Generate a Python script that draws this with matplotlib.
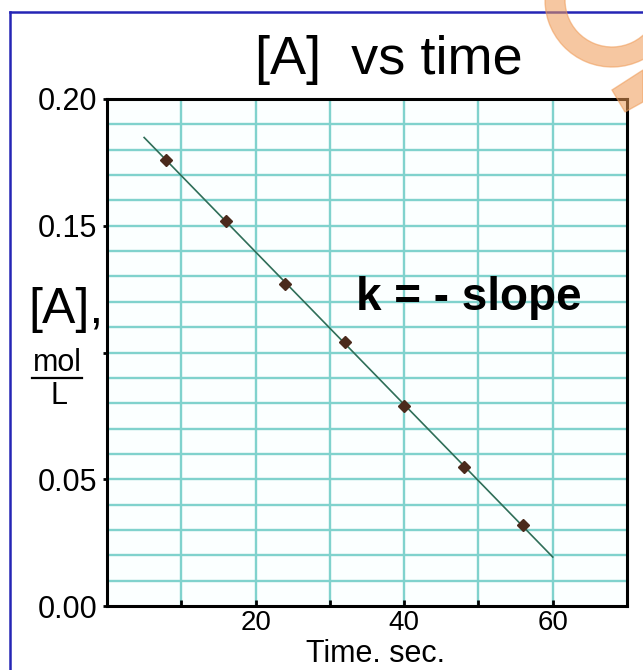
import numpy as np
import matplotlib
matplotlib.use("Agg")
import matplotlib.pyplot as plt
from matplotlib.patches import Wedge, Polygon
from matplotlib.lines import Line2D
from matplotlib.transforms import IdentityTransform

# ---- data ----
time_s = [8, 16, 24, 32, 40, 48, 56]
conc_A = [0.176, 0.152, 0.127, 0.104, 0.079, 0.055, 0.032]
fit_range = [5, 60]
x_ticks = [10, 20, 30, 40, 50, 60]
x_tick_labels = ["", "20", "", "40", "", "60"]
y_ticks = [0.00, 0.05, 0.10, 0.15, 0.20]
y_tick_labels = ["0.00", "0.05", "", "0.15", "0.20"]
title = "[A]  vs time"
annotation = "k = - slope"
x_label = "Time. sec."

W, H = 643, 670
plt.rcParams['font.family'] = ['Liberation Sans', 'DejaVu Sans']
fig = plt.figure(figsize=(W / 100, H / 100), dpi=100)
fig.patch.set_facecolor('white')

def fx(px):
    return px / W

def fy(py):
    return 1 - py / H

ax = fig.add_axes([fx(107), fy(606), fx(627) - fx(107), fy(99) - fy(606)])
ax.set_facecolor('#fbffff')
ax.set_xlim(0, 70)
ax.set_ylim(0, 0.20)

# grid
grid_col = '#80d2cd'
for gx in np.arange(10, 70, 10):
    ax.axvline(gx, color=grid_col, lw=1.7, zorder=1)
for gy in np.arange(0.01, 0.20, 0.01):
    ax.axhline(gy, color=grid_col, lw=1.7, zorder=1)

# fit line
coef = np.polyfit(time_s, conc_A, 1)
xf = np.array(fit_range, dtype=float)
ax.plot(xf, np.polyval(coef, xf), color='#2f6e58', lw=1.2, zorder=3)

# data points
ax.plot(time_s, conc_A, linestyle='none', marker='D', ms=6.5,
        color='#4b2a1c', zorder=4)

# spines and ticks
for s in ax.spines.values():
    s.set_color('black')
    s.set_linewidth(2.2)
ax.set_xticks(x_ticks)
ax.set_xticklabels(x_tick_labels, fontsize=20)
ax.set_yticks(y_ticks)
ax.set_yticklabels(y_tick_labels, fontsize=22)
ax.tick_params(axis='x', direction='in', length=4, width=2, pad=3)
ax.tick_params(axis='y', direction='out', length=3, width=2, pad=4)

# annotation
ax.text(0.695, 0.608, annotation, transform=ax.transAxes, fontsize=33,
        fontweight='bold', ha='center', va='center', zorder=5)

# title
fig.text(fx(389), fy(60), title, fontsize=39, ha='center', va='center')

# x label
fig.text(fx(376), fy(654), x_label, fontsize=22, ha='center', va='center')

# y label pieces
fig.text(fx(66), fy(310), "[A],", fontsize=36, ha='center', va='center')
fig.text(fx(57), fy(363), "mol", fontsize=22, ha='center', va='center')
fig.add_artist(Line2D([fx(32), fx(82)], [fy(378), fy(378)], color='black', lw=1.6))
fig.text(fx(59), fy(396), "L", fontsize=22, ha='center', va='center')

# blue frame
fig.add_artist(Line2D([fx(10), fx(10)], [fy(12), 0], color='#2525b5', lw=1.8))
fig.add_artist(Line2D([fx(10), 1], [fy(12), fy(12)], color='#2525b5', lw=1.8))

# orange watermark
ring = Wedge((612, H - 0), 67, 150, 345, width=20,
             color='#ef9a55', alpha=0.55, zorder=10, transform=IdentityTransform())
fig.add_artist(ring)
poly = Polygon([[612, H - 90], [643, H - 70], [643, H - 102], [625, H - 112]],
               closed=True, color='#ef9a55', alpha=0.55, zorder=10,
               transform=IdentityTransform())
fig.add_artist(poly)

fig.savefig('out.png', dpi=100)
